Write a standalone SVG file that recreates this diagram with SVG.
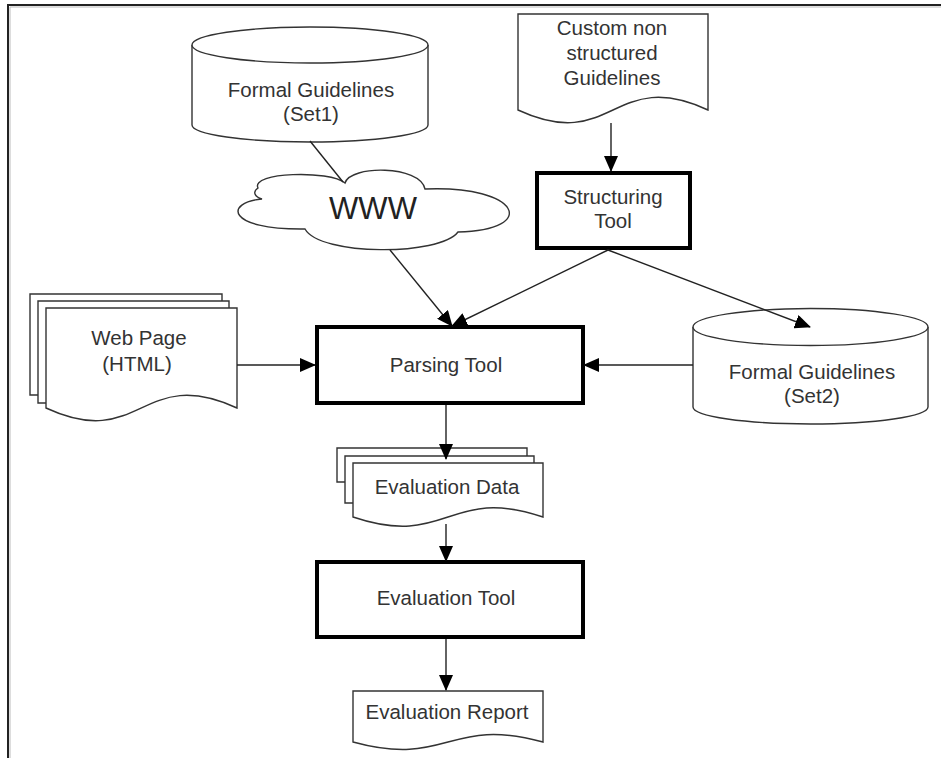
<svg xmlns="http://www.w3.org/2000/svg" width="941" height="758" viewBox="0 0 941 758">
<defs>
<marker id="ah" markerUnits="userSpaceOnUse" markerWidth="16" markerHeight="14" refX="15" refY="7" orient="auto">
<path d="M0,0 L16,7 L0,14 Z" fill="#000"/>
</marker>
<style>
.s{fill:#fff;stroke:#333;stroke-width:1.4}
.b{fill:#fff;stroke:#000;stroke-width:4}
.l{fill:none;stroke:#222;stroke-width:1.4}
.a{fill:none;stroke:#222;stroke-width:1.4;marker-end:url(#ah)}
text{font-family:"Liberation Sans",Arial,sans-serif;font-size:20.5px;fill:#333;text-anchor:middle}
</style>
</defs>
<rect width="941" height="758" fill="#fff"/>
<path d="M8,758 V5 H941" fill="none" stroke="#222" stroke-width="2"/>
<path d="M10,758 V7 H941" fill="none" stroke="#bbb" stroke-width="1"/>

<g id="set1">
<path class="s" d="M192,45 V125 A118,17 0 0 0 428,125 V45"/>
<ellipse class="s" cx="310" cy="45" rx="118" ry="18"/>
<text x="311" y="97">Formal Guidelines</text>
<text x="311" y="121">(Set1)</text>
</g>

<g id="custom">
<path class="s" d="M518,14 H708 V110 C613,66 613,154 518,110 Z"/>
<text x="612" y="35">Custom non</text>
<text x="612" y="60">structured</text>
<text x="612" y="85">Guidelines</text>
</g>

<g id="www">
<path class="s" d="M262,199 C225,202 225,230 305,229 C320,256 440,256 458,232 C540,230 520,185 425,189 C420,165 350,165 345,183 C330,170 250,172 258,188 C252,192 255,197 262,199 Z"/>
<text x="373" y="219" style="font-size:31px;fill:#222">WWW</text>
</g>

<g id="structuring">
<rect class="b" x="537" y="173" width="153" height="75"/>
<text x="613" y="204">Structuring</text>
<text x="613" y="228">Tool</text>
</g>

<g id="webpage">
<path class="s" d="M38,395 H30 V294 H222 V301"/>
<path class="s" d="M46,403 H38 V301 H229 V308"/>
<path class="s" d="M46,308 H237 V408 C141,364 141,452 46,408 Z"/>
<text x="139" y="345">Web Page</text>
<text x="137" y="371">(HTML)</text>
</g>

<g id="parsing">
<rect class="b" x="317" y="327" width="266" height="76"/>
<text x="446" y="372">Parsing Tool</text>
</g>

<g id="set2">
<path class="s" d="M693,327 V407 A117.5,17 0 0 0 928,407 V327"/>
<ellipse class="s" cx="810.5" cy="327" rx="117.5" ry="18.5"/>
<text x="812" y="379">Formal Guidelines</text>
<text x="812" y="403">(Set2)</text>
</g>

<g id="evaldata">
<path class="s" d="M345,482 H337 V448 H527 V456"/>
<path class="s" d="M353,503 H345 V456 H534 V463"/>
<path class="s" d="M353,463 H543 V517 C448,485 448,549 353,517 Z"/>
<text x="447" y="494">Evaluation Data</text>
</g>

<g id="evaltool">
<rect class="b" x="317" y="562" width="266" height="75"/>
<text x="446" y="605">Evaluation Tool</text>
</g>

<g id="report">
<path class="s" d="M353,691 H543 V742 C448,716 448,768 353,742 Z"/>
<text x="447" y="719">Evaluation Report</text>
</g>

<g id="connectors">
<line class="l" x1="310" y1="141" x2="343" y2="182"/>
<line class="a" x1="390" y1="250" x2="452" y2="326"/>
<line class="a" x1="611" y1="123" x2="611" y2="171"/>
<line class="a" x1="608" y1="250" x2="452" y2="326"/>
<line class="a" x1="608" y1="250" x2="810" y2="327"/>
<line class="a" x1="693" y1="365" x2="584" y2="365"/>
<line class="a" x1="237" y1="365" x2="315" y2="365"/>
<line class="a" x1="446" y1="405" x2="446" y2="459"/>
<line class="a" x1="446" y1="524" x2="446" y2="561"/>
<line class="a" x1="446" y1="639" x2="446" y2="690"/>
</g>
</svg>
